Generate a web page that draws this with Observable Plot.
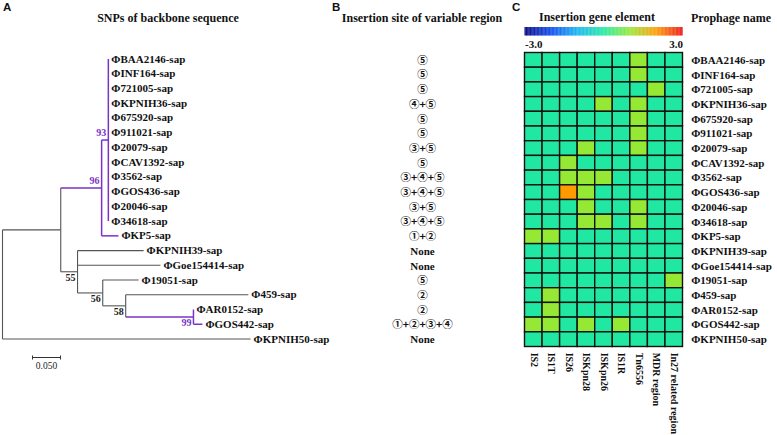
<!DOCTYPE html>
<html><head><meta charset="utf-8">
<script src="https://cdn.jsdelivr.net/npm/d3@7"></script>
<script src="https://cdn.jsdelivr.net/npm/@observablehq/plot@0.6"></script>
<style>
body{margin:0;background:#fff;}
#root{position:relative;width:777px;height:435px;overflow:hidden;background:#fff;}
.lbl{position:absolute;white-space:nowrap;font-weight:bold;line-height:1;color:#111;}
.panel{font-family:"Liberation Sans",Arial,sans-serif;font-size:11.5px;}
.ttl{font-family:"Liberation Serif",serif;font-size:12px;}
</style></head><body><div id="root"></div>
<script>
// ---------- data ----------
const prophages = ["ΦBAA2146-sap","ΦINF164-sap","Φ721005-sap","ΦKPNIH36-sap","Φ675920-sap","Φ911021-sap","Φ20079-sap","ΦCAV1392-sap","Φ3562-sap","ΦGOS436-sap","Φ20046-sap","Φ34618-sap","ΦKP5-sap","ΦKPNIH39-sap","ΦGoe154414-sap","Φ19051-sap","Φ459-sap","ΦAR0152-sap","ΦGOS442-sap","ΦKPNIH50-sap"];
const genes = ["IS2","IS1T","IS26","ISKpn28","ISKpn26","IS1R","Tn6556","MDR region","In27 related region"];
const insertion = [
  [0,0,0,0,0,0,1,0,0],
  [0,0,0,0,0,0,1,0,0],
  [0,0,0,0,0,0,0,1,0],
  [0,0,0,0,1,0,1,0,0],
  [0,0,0,0,0,0,1,0,0],
  [0,0,0,0,0,0,1,0,0],
  [0,0,0,1,0,0,1,0,0],
  [0,0,1,0,0,0,0,0,0],
  [0,0,1,1,1,0,0,0,0],
  [0,0,2,1,0,0,0,0,0],
  [0,0,0,1,0,0,1,0,0],
  [0,0,0,1,1,0,1,0,0],
  [1,1,0,0,0,0,0,0,0],
  [0,0,0,0,0,0,0,0,0],
  [0,0,0,0,0,0,0,0,0],
  [0,0,0,0,0,0,0,0,1],
  [0,1,0,0,0,0,0,0,0],
  [0,1,0,0,0,0,0,0,0],
  [1,1,0,1,0,1,0,0,0],
  [0,0,0,0,0,0,0,0,0]
];
const sites = ["⑤","⑤","⑤","④+⑤","⑤","⑤","③+⑤","⑤","③+④+⑤","③+④+⑤","③+⑤","③+④+⑤","①+②","None","None","⑤","②","②","①+②+③+④","None"];
// tree: node id, parent id, distance from root (substitutions/site)
const treeIds     = ["root","nA","n96","n93","ΦBAA2146-sap","ΦINF164-sap","Φ721005-sap","ΦKPNIH36-sap","Φ675920-sap","Φ911021-sap","Φ20079-sap","ΦCAV1392-sap","Φ3562-sap","ΦGOS436-sap","Φ20046-sap","Φ34618-sap","ΦKP5-sap","n55","ΦKPNIH39-sap","ΦGoe154414-sap","n56","Φ19051-sap","n58","Φ459-sap","n99","ΦAR0152-sap","ΦGOS442-sap","ΦKPNIH50-sap"];
const treeParents = [null,"root","nA","n96","n93","n93","n93","n93","n93","n93","n93","n93","n93","n93","n93","n93","n96","nA","n55","n55","n55","n56","n56","n58","n58","n99","n99","root"];
const treeDepths  = [0,0.104,0.177,0.189,0.189,0.189,0.189,0.189,0.189,0.189,0.189,0.189,0.189,0.189,0.189,0.189,0.207,0.134,0.252,0.282,0.179,0.243,0.220,0.439,0.341,0.341,0.357,0.443];
const bootNodes  = ["n93","n96","n55","n56","n58","n99"];
const bootValues = [93,96,55,56,58,99];
const bootSide   = ["above","above","below","below","below","below"];
const highlighted = ["n96","n93","ΦKP5-sap","n99","ΦAR0152-sap","ΦGOS442-sap"];
const scaleBarLength = 0.05;
const colorDomain = [-3,-2,-1,0,1,2,3];
const colorRange  = ["#00007f","#0a46ee","#12b4f2","#20e8a2","#95e833","#ff9a00","#ee1111"];

// ---------- helpers ----------
const root = document.getElementById("root");
const SERIF = "Liberation Serif";
const PURPLE = "#7a32c8", GRAY = "#555555";
const baseStyle = "position:absolute;left:0;top:0;background:transparent;overflow:visible;";
function add(el, left=0){ el.style.cssText += baseStyle + `left:${left}px;`; root.appendChild(el); }
function label(text, cls, left, top, center){
  const d = document.createElement("div");
  d.className = "lbl " + cls; d.textContent = text;
  d.style.left = left + "px"; d.style.top = top + "px";
  if (center) d.style.transform = "translateX(-50%)";
  root.appendChild(d);
}

// ---------- tree layout ----------
const nodes = new Map(treeIds.map((id,i)=>[id,{id, parent:treeParents[i], depth:treeDepths[i], children:[]}]));
for (const n of nodes.values()) if (n.parent) nodes.get(n.parent).children.push(n);
(function lay(n){
  if (!n.children.length) { n.y = prophages.indexOf(n.id); return; }
  n.children.forEach(lay);
  const ys = n.children.map(c=>c.y);
  n.y = (Math.min(...ys)+Math.max(...ys))/2;
})(nodes.get("root"));
const hsegs = [], vsegs = [];
for (const n of nodes.values()) {
  const hi = highlighted.includes(n.id);
  if (n.parent) hsegs.push({x1:nodes.get(n.parent).depth, x2:n.depth, y:n.y, hi});
  if (n.children.length) {
    const ys = n.children.map(c=>c.y);
    vsegs.push({x:n.depth, y1:Math.min(...ys), y2:Math.max(...ys), hi});
  }
}
const tips = [...nodes.values()].filter(n=>!n.children.length);
const boots = bootNodes.map((id,i)=>({x:nodes.get(id).depth, y:nodes.get(id).y, v:bootValues[i], side:bootSide[i], hi:highlighted.includes(id)}));

const treePlot = Plot.plot({
  width: 777, height: 435, margin: 0,
  x: {type:"linear", domain:[0,0.45], range:[2, 2+0.45*560], axis:null},
  y: {type:"linear", domain:[0,19], range:[58.5,338.5], axis:null},
  marks: [
    Plot.link(hsegs.filter(d=>!d.hi), {x1:"x1", x2:"x2", y1:"y", y2:"y", stroke:GRAY, strokeWidth:1.1}),
    Plot.link(vsegs.filter(d=>!d.hi), {x1:"x", x2:"x", y1:"y1", y2:"y2", stroke:GRAY, strokeWidth:1.1}),
    Plot.link(hsegs.filter(d=>d.hi), {x1:"x1", x2:"x2", y1:"y", y2:"y", stroke:PURPLE, strokeWidth:1.5}),
    Plot.link(vsegs.filter(d=>d.hi), {x1:"x", x2:"x", y1:"y1", y2:"y2", stroke:PURPLE, strokeWidth:1.5}),
    Plot.text(tips, {x:"depth", y:"y", text:"id", dx:3, textAnchor:"start", fontFamily:SERIF, fontWeight:"bold", fontSize:11, fill:"#111"}),
    Plot.text(boots.filter(d=>d.side==="above"), {x:"x", y:"y", text:d=>String(d.v), dx:-2, dy:-7, textAnchor:"end", fontFamily:SERIF, fontWeight:"bold", fontSize:10, fill:d=>d.hi?PURPLE:"#222"}),
    Plot.text(boots.filter(d=>d.side==="below"), {x:"x", y:"y", text:d=>String(d.v), dx:-2, dy:6, textAnchor:"end", fontFamily:SERIF, fontWeight:"bold", fontSize:10, fill:d=>d.hi?PURPLE:"#222"})
  ]
});
add(treePlot);

// scale bar
const scalePlot = Plot.plot({
  width: 777, height: 435, margin: 0,
  x: {type:"linear", domain:[0,scaleBarLength], range:[32,60], axis:null},
  y: {type:"linear", domain:[0,1], range:[357,367], axis:null},
  marks: [
    Plot.link([0], {x1:0, x2:scaleBarLength, y1:0, y2:0, stroke:"#333", strokeWidth:1}),
    Plot.link([0, scaleBarLength], {x1:d=>d, x2:d=>d, y1:-0.2, y2:0.2, stroke:"#333", strokeWidth:1}),
    Plot.text([scaleBarLength], {x:d=>d/2, y:0.85, text:d=>d.toFixed(3), fontFamily:SERIF, fontSize:9.5, fill:"#222"})
  ]
});
add(scalePlot);

// ---------- panel B ----------
const bData = prophages.map((p,i)=>({p, s:sites[i]}));
const bPlot = Plot.plot({
  width: 100, height: 435, margin: 0,
  y: {type:"band", domain:prophages, range:[52.5,346.5], padding:0, round:false, axis:null},
  marks: [
    Plot.text(bData.filter(d=>d.s!=="None"), {y:"p", text:"s", fontFamily:"Noto Sans CJK SC", fontWeight:"bold", fontSize:10.5, fill:"#111"}),
    Plot.text(bData.filter(d=>d.s==="None"), {y:"p", text:"s", fontFamily:SERIF, fontWeight:"bold", fontSize:11, fill:"#111"})
  ]
});
add(bPlot, 372);

// ---------- panel C ----------
const cells = [];
prophages.forEach((p,i)=>genes.forEach((g,j)=>cells.push({p, g, v:insertion[i][j]})));
const cPlot = Plot.plot({
  width: 777, height: 435, margin: 0,
  x: {type:"band", domain:genes, range:[524.5,682.5], padding:0, round:false, axis:null},
  y: {type:"band", domain:prophages, range:[52.5,346.5], padding:0, round:false, axis:null},
  color: {type:"linear", domain:colorDomain, range:colorRange},
  marks: [
    Plot.cell(cells, {x:"g", y:"p", fill:"v", stroke:"#111", strokeWidth:1.4}),
    Plot.text(prophages, {x:()=>genes[genes.length-1], y:d=>d, text:d=>d, dx:17, textAnchor:"start", fontFamily:SERIF, fontWeight:"bold", fontSize:11, fill:"#111"}),
    Plot.text(genes, {x:d=>d, y:()=>prophages[prophages.length-1], text:d=>d, dy:13, rotate:90, textAnchor:"start", fontFamily:SERIF, fontWeight:"bold", fontSize:10, fill:"#111"})
  ]
});
add(cPlot);

// colour bar
const steps = d3.range(-3, 3, 0.03);
const barPlot = Plot.plot({
  width: 777, height: 435, margin: 0,
  x: {type:"linear", domain:[-3,3], range:[524.5,682.5], axis:null},
  y: {type:"linear", domain:[0,1], range:[35.5,27], axis:null},
  color: {type:"linear", domain:colorDomain, range:colorRange},
  marks: [
    Plot.rect(steps, {x1:d=>d, x2:d=>d+0.035, y1:0, y2:1, fill:d=>d+0.015}),
    Plot.text([-3], {x:d=>d, y:0, text:d=>d.toFixed(1), dy:8, textAnchor:"start", fontFamily:SERIF, fontWeight:"bold", fontSize:11, fill:"#111"}),
    Plot.text([3], {x:d=>d, y:0, text:d=>d.toFixed(1), dy:8, textAnchor:"end", fontFamily:SERIF, fontWeight:"bold", fontSize:11, fill:"#111"})
  ]
});
add(barPlot);

// ---------- titles ----------
label("A", "panel", 3, 2);
label("B", "panel", 332, 2);
label("C", "panel", 512, 2);
label("SNPs of backbone sequence", "ttl", 168, 12, true);
label("Insertion site of variable region", "ttl", 422, 12, true);
label("Insertion gene element", "ttl", 597, 11, true);
label("Prophage name", "ttl", 691, 12, false);
</script></body></html>
